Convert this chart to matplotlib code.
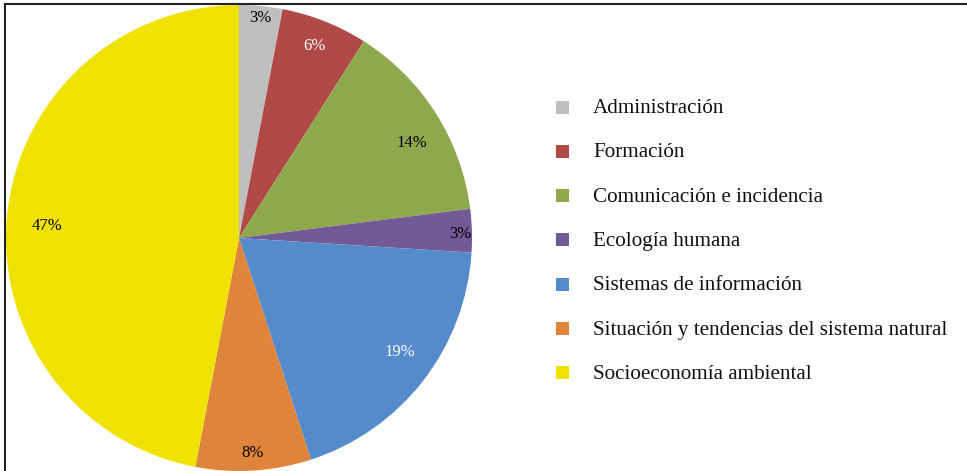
import numpy as np
import matplotlib.pyplot as plt
from matplotlib.patches import Rectangle
from matplotlib.lines import Line2D

labels = ['Administración', 'Formación', 'Comunicación e incidencia',
          'Ecología humana', 'Sistemas de información',
          'Situación y tendencias del sistema natural',
          'Socioeconomía ambiental']
values = [3, 6, 14, 3, 19, 8, 47]
colors = ['#C0BFC0', '#B04A46', '#8EA84C', '#735A97', '#568BCB', '#DE843B', '#F0E200']
text_colors = ['black', 'white', 'black', 'black', 'white', 'black', 'black']
label_radius = [0.95, 0.885, 0.845, 0.95, 0.846, 0.925, 0.826]
label_shift = [0, 0, -3.5, -0.8, 2.5, 0, 1.8]   # degrees, nudges to match

plt.rcParams['font.family'] = ['Liberation Serif', 'DejaVu Serif']

W, H = 967, 471
fig = plt.figure(figsize=(W / 100, H / 100), dpi=100)

# pie area: centre (239, 238) px, radius 233 px
ax = fig.add_axes([6 / W, 0, 466 / W, 466 / H])
wedges, _ = ax.pie(values, colors=colors, startangle=90, counterclock=False,
                   radius=1, wedgeprops=dict(linewidth=0))
ax.set_xlim(-1, 1)
ax.set_ylim(-1, 1)
ax.set_aspect('equal')
ax.axis('off')

for w, v, c, r, s in zip(wedges, values, text_colors, label_radius, label_shift):
    ang = np.deg2rad((w.theta1 + w.theta2) / 2 + s)
    ax.text(r * np.cos(ang), r * np.sin(ang), f'{v}%', color=c,
            fontsize=12, ha='center', va='center')

# legend drawn by hand
y0, dy = 107, 44.3
for i, (lab, col) in enumerate(zip(labels, colors)):
    y = y0 + i * dy
    fig.patches.append(Rectangle((556 / W, 1 - (y + 6.5) / H), 13 / W, 13 / H,
                                 transform=fig.transFigure, facecolor=col,
                                 edgecolor='none'))
    fig.text(593 / W, 1 - (y + 1.5) / H, lab, fontsize=15.2, ha='left',
             va='center', color='#111111')

# frame lines (top and left)
fig.lines.append(Line2D([5 / W, 1], [1 - 3.5 / H, 1 - 3.5 / H],
                        transform=fig.transFigure, color='#222222', lw=1.5))
fig.lines.append(Line2D([5 / W, 5 / W], [0, 1 - 3.5 / H],
                        transform=fig.transFigure, color='#222222', lw=1.5))

fig.savefig('out.png', dpi=100)
